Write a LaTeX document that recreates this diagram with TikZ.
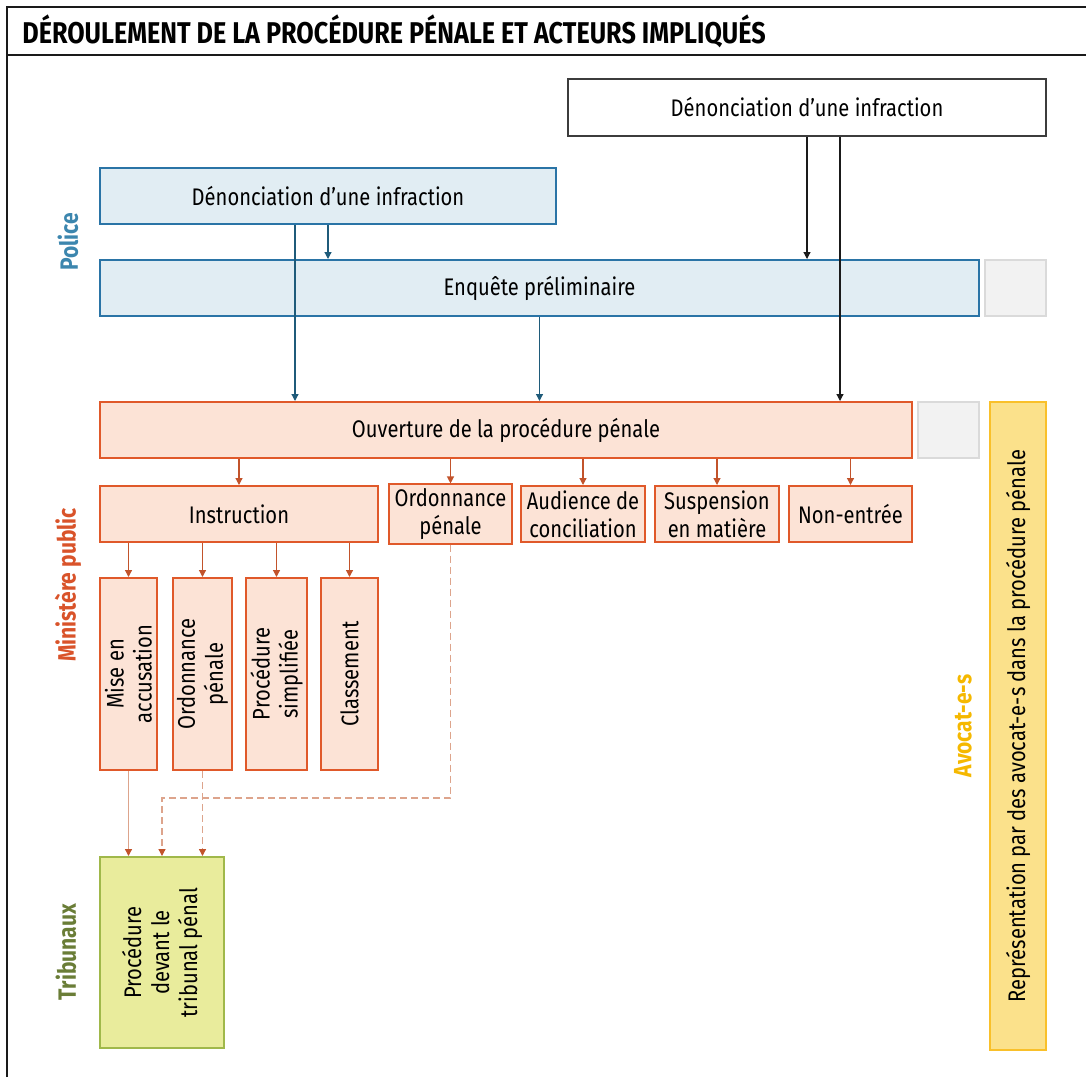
\documentclass[tikz,border=0pt]{standalone}
\usepackage{fontspec}
\setmainfont{Fira Sans}[FakeStretch=0.84]
\usepackage{tikz}
\usetikzlibrary{positioning,arrows.meta}
\definecolor{ink}{HTML}{1A1A1A}
\definecolor{polbg}{HTML}{E1EDF3}
\definecolor{polline}{HTML}{2A74A6}
\definecolor{polarrow}{HTML}{1F5B7A}
\definecolor{poltxt}{HTML}{3C86AE}
\definecolor{mpbg}{HTML}{FCE3D6}
\definecolor{mpline}{HTML}{E0592A}
\definecolor{mparrow}{HTML}{C2532B}
\definecolor{mplight}{HTML}{DDA48C}
\definecolor{mptxt}{HTML}{D9532A}
\definecolor{tribbg}{HTML}{E9EC9C}
\definecolor{tribline}{HTML}{A0B84A}
\definecolor{tribtxt}{HTML}{6A7D37}
\definecolor{avobg}{HTML}{FBE18B}
\definecolor{avoline}{HTML}{F9C02A}
\definecolor{avotxt}{HTML}{F5B800}
\definecolor{greybg}{HTML}{F2F2F2}
\definecolor{greyline}{HTML}{DADADA}
\tikzset{
  box/.style={draw,line width=1pt,align=center,font=\fontsize{12}{14}\selectfont,inner xsep=1pt,inner ysep=2pt},
  polbox/.style={box,fill=polbg,draw=polline,minimum height=28pt},
  mpbox/.style={box,fill=mpbg,draw=mpline,minimum height=28pt},
  greybox/.style={box,fill=greybg,draw=greyline,minimum width=30.5pt,minimum height=28pt},
  side/.style={rotate=90,font=\fontsize{12.5}{14}\selectfont\bfseries},
  a/.style={-{Triangle[length=3.5pt,width=3.5pt]},line width=0.6pt},
}

\begin{document}
\begin{tikzpicture}[x=0.5pt,y=-0.5pt]

\tikzset{
  vbox/.style={mpbox,rotate=90,minimum width=96pt,minimum height=28.5pt},
  ablk/.style={a,draw=ink},
  ablu/.style={a,draw=polarrow},
  aor/.style={a,draw=mparrow},
  alt/.style={-{Triangle[length=3.5pt,width=3.5pt,color=mparrow]},line width=0.6pt,draw=mplight},
  dsh/.style={alt,dash pattern=on 3.5pt off 2pt},
}
\useasboundingbox (0,0) rectangle (1086,1077);

% ---- frame and title
\draw[ink,line width=1.2pt] (7,1077) -- (7,7) -- (1086,7);
\draw[ink,line width=1pt] (7,55) -- (1086,55);
\node[anchor=west,font=\fontsize{15}{17}\selectfont\bfseries,inner sep=0pt] (title) at (22,31)
  {DÉROULEMENT DE LA PROCÉDURE PÉNALE ET ACTEURS IMPLIQUÉS};

% ---- side labels
\node[side,text=poltxt] (lpol) at (68,242) {Police};
\node[side,text=mptxt] (lmp) at (68,585) {Ministère public};
\node[side,text=tribtxt] (ltrib) at (66,952) {Tribunaux};
\node[side,text=avotxt] (lavo) at (963,726) {Avocat-e-s};

% ---- police
\node[box,fill=white,draw=ink!85,minimum width=239pt,minimum height=28.5pt] (den2) at (807,107.5) {Dénonciation d’une infraction};
\node[polbox,minimum width=228pt] (den1) at (328,196) {Dénonciation d’une infraction};
\node[polbox,minimum width=439.5pt] (enq) at (539.5,288) {Enquête préliminaire};
\node[greybox] (gr1) at (1015.5,288) {};

% ---- ministere public
\node[mpbox,minimum width=406pt] (ouv) at (506,430) {Ouverture de la procédure pénale};
\node[greybox] (gr2) at (948.5,430) {};
\node[mpbox,minimum width=139pt] (instr) at (239,514) {Instruction};
\node[mpbox,minimum width=61.5pt] (ordo) at (450.5,514) {Ordonnance\\pénale};
\node[mpbox,minimum width=62pt] (aud) at (583,514) {Audience de\\conciliation};
\node[mpbox,minimum width=62pt] (susp) at (717,514) {Suspension\\en matière};
\node[mpbox,minimum width=61.5pt] (non) at (850.5,514) {Non-entrée};

\node[vbox] (mise) at (128.5,674) {Mise en\\accusation};
\node[vbox] (ordb) at (202.5,674) {Ordonnance\\pénale};
\node[vbox] (simp) at (276.5,674) {Procédure\\simplifiée};
\node[vbox] (clas) at (349.5,674) {Classement};

% ---- tribunaux, avocats
\node[box,fill=tribbg,draw=tribline,rotate=90,minimum width=95.5pt,minimum height=62pt] (trib) at (162,952.5) {Procédure\\devant le\\tribunal pénal};
\node[box,fill=avobg,draw=avoline,rotate=90,minimum width=324pt,minimum height=28pt] (avo) at (1018,726) {Représentation par des avocat-e-s dans la procédure pénale};

% ---- arrows
\draw[ablk] (den2.south) -- (den2.south |- enq.north);
\draw[ablk] ([xshift=16.5pt]den2.south) -- ([xshift=16.5pt]den2.south |- ouv.north);
\draw[ablu] (den1.south) -- (den1.south |- enq.north);
\draw[ablu] ([xshift=-16.5pt]den1.south) -- ([xshift=-16.5pt]den1.south |- ouv.north);
\draw[ablu] (enq.south) -- (enq.south |- ouv.north);
\foreach \n in {instr,ordo,aud,susp,non}
  \draw[aor] (\n.north |- ouv.south) -- (\n.north);
\foreach \n in {mise,ordb,simp,clas}
  \draw[aor] (\n.east |- instr.south) -- (\n.east);
\draw[alt] (mise.west) -- (mise.west |- trib.east);
\draw[dsh] (ordb.west) -- (ordb.west |- trib.east);
\coordinate (bend) at (162,798);
\draw[dsh] (ordo.south) |- (bend) -- (trib.east);

\end{tikzpicture}
\end{document}
